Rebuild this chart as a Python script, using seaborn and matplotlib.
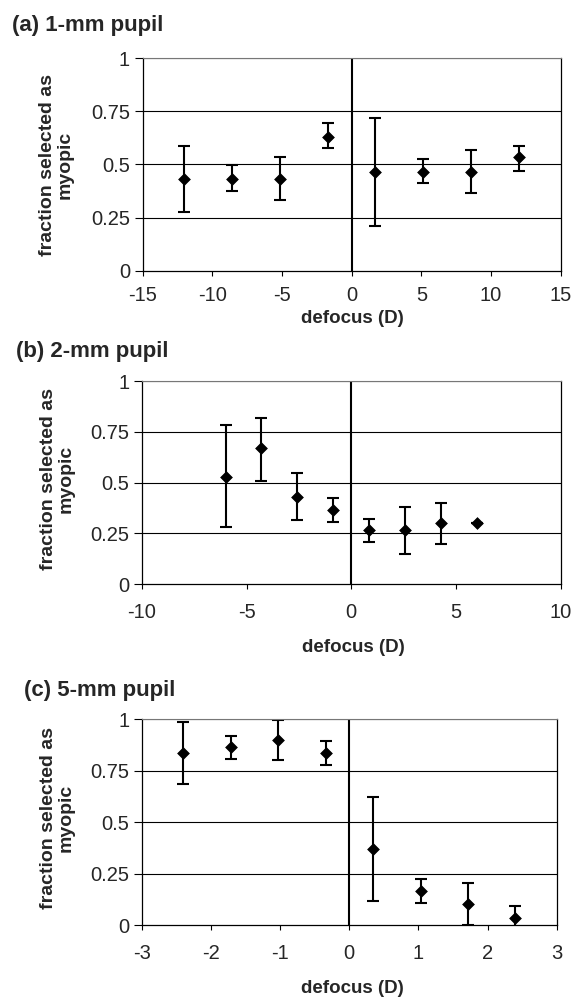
import numpy as np
import matplotlib
matplotlib.use("Agg")
import matplotlib.pyplot as plt
import seaborn as sns

# (a) 1-mm pupil
defocus_a = [-12.0, -8.57, -5.14, -1.71, 1.71, 5.14, 8.57, 12.0]
frac_a = [0.432, 0.432, 0.432, 0.631, 0.465, 0.465, 0.465, 0.534]
low_a = [0.278, 0.375, 0.333, 0.576, 0.212, 0.411, 0.364, 0.468]
high_a = [0.587, 0.498, 0.534, 0.694, 0.717, 0.526, 0.568, 0.589]

# (b) 2-mm pupil
defocus_b = [-6.0, -4.29, -2.57, -0.86, 0.86, 2.57, 4.29, 6.0]
frac_b = [0.530, 0.669, 0.431, 0.366, 0.266, 0.266, 0.300, 0.300]
low_b = [0.280, 0.510, 0.315, 0.307, 0.208, 0.151, 0.200, 0.300]
high_b = [0.784, 0.818, 0.546, 0.425, 0.323, 0.380, 0.400, 0.300]

# (c) 5-mm pupil
defocus_c = [-2.4, -1.71, -1.03, -0.34, 0.34, 1.03, 1.71, 2.4]
frac_c = [0.837, 0.862, 0.898, 0.837, 0.367, 0.167, 0.100, 0.036]
low_c = [0.683, 0.806, 0.801, 0.775, 0.118, 0.108, 0.000, -0.021]
high_c = [0.984, 0.919, 0.995, 0.892, 0.621, 0.223, 0.202, 0.092]

titles = ["(a) 1-mm pupil", "(b) 2-mm pupil", "(c) 5-mm pupil"]
xlims = [(-15, 15), (-10, 10), (-3, 3)]
xsteps = [5, 5, 1]
y_ticks = [0, 0.25, 0.5, 0.75, 1]
y_ticklabels = ["0", "0.25", "0.5", "0.75", "1"]

sns.set_style("white")
plt.rcParams["font.family"] = ["Liberation Sans", "DejaVu Sans"]

fig = plt.figure(figsize=(5.72, 9.97), dpi=100)

# axes boxes in pixels: left, top, right, bottom
boxes = [(142.6, 58.3, 560.7, 270.7), (141.9, 381, 560.7, 584.3),
         (141.9, 719, 556.7, 925)]
title_pos = [(12, 25), (16.5, 352), (23.8, 690)]
xlabel_pos = [(352, 318), (353, 647), (352, 988)]
ylabel_pos = [(56, 165), (57, 479), (57, 818)]
xpads = [7.6, 10.5, 10.3]

W, H = 572, 997
panels = [
    (defocus_a, frac_a, low_a, high_a),
    (defocus_b, frac_b, low_b, high_b),
    (defocus_c, frac_c, low_c, high_c),
]

for i, (x, y, lo, hi) in enumerate(panels):
    l, t, r, b = boxes[i]
    ax = fig.add_axes([l / W, 1 - b / H, (r - l) / W, (b - t) / H])
    x = np.array(x)
    y = np.array(y)
    yerr = [y - np.array(lo), np.array(hi) - y]

    for g in [0.25, 0.5, 0.75, 1.0]:
        ax.axhline(g, color="black", lw=0.8, zorder=1)
    ax.axvline(0, color="black", lw=1.5, zorder=1)

    ax.errorbar(x, y, yerr=yerr, fmt="none", ecolor="black",
                elinewidth=1.5, capsize=4.3, capthick=1.5, zorder=2)
    sns.scatterplot(x=x, y=y, marker="D", color="black", edgecolor="black",
                    s=36, linewidth=0.5, ax=ax, zorder=3, legend=False)

    lo_x, hi_x = xlims[i]
    ax.set_xlim(lo_x, hi_x)
    ax.set_ylim(0, 1)
    xt = np.arange(lo_x, hi_x + 0.01, xsteps[i])
    ax.set_xticks(xt)
    ax.set_xticklabels([f"{v:g}" for v in xt])
    ax.set_yticks(y_ticks)
    ax.set_yticklabels(y_ticklabels)
    ax.tick_params(axis="both", labelsize=14.5, direction="out",
                   width=0.8, color="black", left=True, bottom=True)
    ax.tick_params(axis="x", pad=xpads[i], length=3.3)
    ax.tick_params(axis="y", pad=3, length=6)
    ax.set_xlabel("")
    ax.set_ylabel("")
    for side in ["left", "bottom", "right"]:
        ax.spines[side].set_color("black")
        ax.spines[side].set_linewidth(0.9)
    ax.spines["top"].set_color("#777777")
    ax.spines["top"].set_linewidth(0.8)

    tx, ty = title_pos[i]
    fig.text(tx / W, 1 - ty / H, titles[i], fontsize=16, fontweight="bold",
             ha="left", va="center")
    xx, xy = xlabel_pos[i]
    fig.text(xx / W, 1 - xy / H, "defocus (D)", fontsize=13.5,
             fontweight="bold", ha="center", va="center")
    yx, yy = ylabel_pos[i]
    fig.text(yx / W, 1 - yy / H, "fraction selected as\nmyopic", fontsize=14,
             fontweight="bold", ha="center", va="center", rotation=90,
             multialignment="center", linespacing=1.05)

fig.savefig("out.png", dpi=100)
